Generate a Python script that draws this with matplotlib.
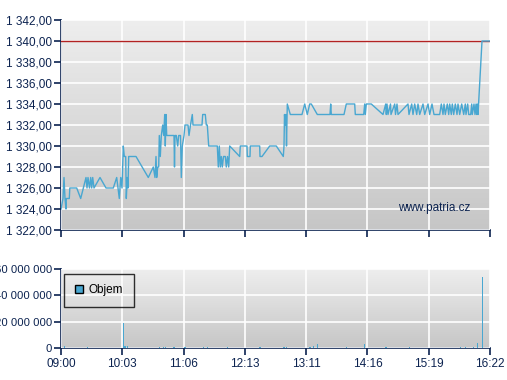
import numpy as np
import matplotlib
matplotlib.use("Agg")
import matplotlib.pyplot as plt
from matplotlib.ticker import FuncFormatter
from matplotlib.lines import Line2D
from matplotlib.colors import LinearSegmentedColormap

# ---- data (x = trade sequence position on the index-based time axis) ----
price_pos = [61, 63, 64, 65, 66, 66.3, 69.3, 69.8, 76.7, 80.7, 86, 87, 88, 89.5, 90.7, 91.7, 92.7, 94,
             100, 106, 113.3, 116.7, 119.3, 120.7, 122, 123.3, 124.3, 125.7, 126.3, 127.3, 128, 128.7,
             130, 136, 148.3, 153.3, 155, 156, 156.7, 157.7, 158.7, 159.3, 160.3, 161.3, 162.7, 163.7,
             164.7, 165.3, 166, 166.7, 174, 174.5, 175, 176.3, 177.7, 178.7, 180.5, 181.3, 182.3, 184,
             185, 188, 189, 190.5, 192.3, 193, 202, 202.7, 205.3, 206.3, 207.3, 208.7, 217.3, 218.3,
             219.3, 220.3, 221.3, 222.3, 223.5, 225.3, 226.3, 227.5, 228.7, 229.7, 239.7, 240.3, 247,
             247.3, 250, 250.3, 259.7, 260, 262, 269.7, 276.3, 283.3, 284, 284.5, 285.3, 286, 286.5,
             287.3, 290.3, 302, 304.7, 307.3, 309.7, 311.3, 317.3, 330, 330.7, 331.3, 344, 346.3, 354.7,
             355.3, 363.7, 364.7, 365.3, 366.3, 371.3, 383, 385.7, 386.3, 387, 388, 390.5, 391, 394.7,
             395.5, 397, 398, 408, 409, 411.7, 413, 414.7, 416.7, 418, 419.7, 423, 424.7, 428, 429.7,
             432, 434, 439.7, 441.3, 443, 444, 445.3, 447.3, 448.7, 449.7, 451.3, 452.3, 453.7, 455.3,
             457, 458, 459.7, 461.7, 463.7, 465.3, 466, 467.7, 468.7, 470.7, 471.7, 472.3, 474, 475,
             476, 476.7, 477.3, 478, 482, 490]
price = [1324, 1325, 1327, 1325, 1324, 1325, 1325, 1326, 1326, 1325, 1327, 1326, 1327, 1326, 1327, 1326,
         1327, 1326, 1327, 1326, 1326, 1327, 1325, 1327, 1326, 1330, 1329, 1329, 1325, 1327, 1326, 1329,
         1329, 1329, 1327, 1328, 1327, 1329, 1327, 1328, 1328, 1331, 1329, 1331, 1332, 1331, 1333, 1330,
         1333, 1331, 1331, 1328, 1331, 1331, 1330, 1331, 1331, 1327, 1330, 1331, 1332, 1332, 1331, 1332,
         1333, 1332, 1332, 1333, 1333, 1332, 1332, 1330, 1330, 1328, 1330, 1328, 1329, 1328, 1329, 1329,
         1328, 1329, 1328, 1330, 1329, 1330, 1330, 1329, 1329, 1330, 1330, 1329, 1329, 1330, 1330, 1329,
         1330, 1333, 1332, 1333, 1330, 1334, 1333, 1333, 1334, 1333, 1334, 1334, 1333, 1333, 1334, 1333,
         1333, 1334, 1334, 1333, 1333, 1334, 1333, 1334, 1334, 1333, 1334, 1333, 1334, 1333, 1334, 1333,
         1334, 1333, 1334, 1333, 1334, 1333, 1334, 1333, 1334, 1333, 1334, 1333, 1334, 1333, 1334, 1333,
         1334, 1333, 1333, 1334, 1333, 1334, 1333, 1334, 1333, 1334, 1333, 1334, 1333, 1334, 1333, 1334,
         1333, 1334, 1333, 1334, 1333, 1334, 1333, 1333, 1334, 1333, 1334, 1333, 1334, 1333, 1334, 1333,
         1340, 1340]

vol_pos = [64.3, 87.3, 123.3, 124, 125, 127.3, 159.3, 163.3, 165.7, 174, 185, 203.3, 207.3, 227.3,
           259.3, 260, 284, 286.7, 310, 313.3, 317.3, 346.7, 364.3, 386, 409.3, 429.3, 460.7, 465.7,
           473.3, 477.3, 482.3]
volume = [1.8e6, 0.5e6, 19e6, 1.5e6, 1.5e6, 1.5e6, 0.5e6, 0.6e6, 0.8e6, 0.5e6, 0.5e6, 0.4e6, 0.4e6,
          0.4e6, 0.8e6, 0.8e6, 0.5e6, 0.5e6, 0.5e6, 1.5e6, 3e6, 0.5e6, 3e6, 0.5e6, 0.5e6, 0.3e6,
          0.5e6, 0.5e6, 0.6e6, 4e6, 54e6]

time_labels = ["09:00", "10:03", "11:06", "12:13", "13:11", "14:16", "15:19", "16:22"]
ref_price = 1340
price_ticks = np.arange(1322, 1343, 2)
vol_ticks = [0, 20e6, 40e6, 60e6]
x_start, x_end = 61, 490

# ---- style ----
navy = "#0c2350"
line_c = "#49a7d1"
plt.rcParams["font.family"] = ["Liberation Sans", "DejaVu Sans"]
FS = 8.5

W, H = 507, 380
fig = plt.figure(figsize=(W / 100, H / 100), dpi=100)
fig.patch.set_facecolor("white")

def px_axes(l, t, r, b):
    return fig.add_axes([l / W, 1 - b / H, (r - l) / W, (b - t) / H])

ax1 = px_axes(61, 20, 490, 230)
ax2 = px_axes(61, 269, 490, 348)

grad = np.linspace(0, 1, 256).reshape(-1, 1)
cmap = LinearSegmentedColormap.from_list("g", ["#eeeeee", "#c6c6c6"])

xticks = np.linspace(x_start, x_end, len(time_labels))

def style(ax, ylim, yticks, fmt, ysize):
    ax.imshow(grad, aspect="auto", cmap=cmap, extent=[0, 1, 0, 1],
              transform=ax.transAxes, zorder=0)
    ax.set_xlim(x_start, x_end)
    ax.set_ylim(*ylim)
    ax.set_yticks(yticks)
    ax.yaxis.set_major_formatter(FuncFormatter(fmt))
    ax.set_xticks(xticks)
    for s in ["top", "right"]:
        ax.spines[s].set_visible(False)
    for s in ["left", "bottom"]:
        ax.spines[s].set_color(navy)
        ax.spines[s].set_linewidth(1.2)
    ax.tick_params(colors=navy, labelcolor=navy, length=5, width=1.2, labelsize=FS, pad=2)
    ax.tick_params(axis="y", labelsize=ysize, pad=1.5)
    ax.grid(True, color="white", linewidth=1.2, zorder=1)
    ax.set_axisbelow(False)

def fmt_price(v, _):
    return f"{v:,.2f}".replace(",", " ").replace(".", ",")

def fmt_vol(v, _):
    return f"{v:,.0f}".replace(",", " ")

style(ax1, (1322, 1342), price_ticks, fmt_price, FS)
ax1.set_xticklabels([])
ax1.axhline(ref_price, color="#b22222", linewidth=1.0, zorder=3)
ax1.plot(price_pos, price, color=line_c, linewidth=1.0, zorder=4)
ax1.text(0.955, 0.075, "www.patria.cz", transform=ax1.transAxes, ha="right", va="bottom",
         color=navy, fontsize=FS, zorder=5)

style(ax2, (0, 60e6), vol_ticks, fmt_vol, 8.1)
ax2.set_xticklabels(time_labels)
ax2.bar(vol_pos, volume, width=1.5, color=line_c, linewidth=0, zorder=4)
h = Line2D([], [], marker="s", linestyle="none", markersize=6, markerfacecolor=line_c,
           markeredgecolor="black", markeredgewidth=1)
leg = ax2.legend([h], ["Objem"], loc="upper left", bbox_to_anchor=(0.007, 0.94), frameon=True,
                 fancybox=False, edgecolor="black", facecolor="none", fontsize=FS,
                 handlelength=0.8, handletextpad=0.4, borderpad=0.9, borderaxespad=0)
leg.get_frame().set_linewidth(1.0)
leg.set_zorder(6)

fig.savefig("out.png", dpi=100, facecolor="white")
